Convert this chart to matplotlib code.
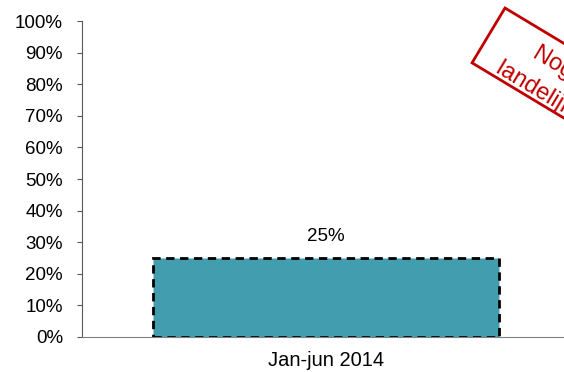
import numpy as np
import matplotlib.pyplot as plt
import matplotlib.patches as mpatches
import matplotlib.transforms as mtransforms

plt.rcParams['font.family'] = ['Liberation Sans', 'DejaVu Sans']

categorieen = ['Jan-jun 2014']
waarden = [25]
y_ticks = list(range(0, 101, 10))
stempel = ['Nog geen', 'landelijk beeld']

fig = plt.figure(figsize=(5.64, 3.72), dpi=100)
ax = fig.add_axes([0.1454, 0.0941, 0.8546, 0.8494])

x = np.arange(len(categorieen))
ax.bar(x, waarden, width=0.718, color='#429EAF', edgecolor='black',
       linewidth=2, linestyle=(0, (3, 2)))
for xi, v in zip(x, waarden):
   ax.text(xi, v + 4, f'{v}%', ha='center', va='bottom', fontsize=13.5)

ax.set_xlim(-0.506, 0.494)
ax.set_ylim(0, 100)
ax.set_yticks(y_ticks)
ax.set_yticklabels([f'{t}%' for t in y_ticks], fontsize=13.5)
ax.set_xticks(x)
ax.set_xticklabels(categorieen, fontsize=14.5)
ax.tick_params(axis='x', length=0, pad=10)
ax.tick_params(axis='y', length=3.6, color='#595959', pad=10)

for s in ['top', 'right']:
   ax.spines[s].set_visible(False)
ax.spines['left'].set_color('#595959')
ax.spines['bottom'].set_color('#808080')

# gedraaide stempel rechtsboven (eenheden in inches, gedraaid om de hoek)
hoek = -31
tr = mtransforms.Affine2D().rotate_deg(hoek).translate(5.05, 3.64) + fig.dpi_scale_trans
kader = mpatches.Rectangle((0, -0.64), 1.98, 0.64, transform=tr,
                           facecolor='white', edgecolor='#C00000', linewidth=2)
fig.add_artist(kader)
for regel, v in zip(stempel, [-0.28, -0.60]):
   fig.text(0.99, v, regel, transform=tr, rotation=hoek, rotation_mode='anchor',
            ha='center', va='baseline', color='#C00000', fontsize=17)

fig.savefig('out.png', dpi=100)
